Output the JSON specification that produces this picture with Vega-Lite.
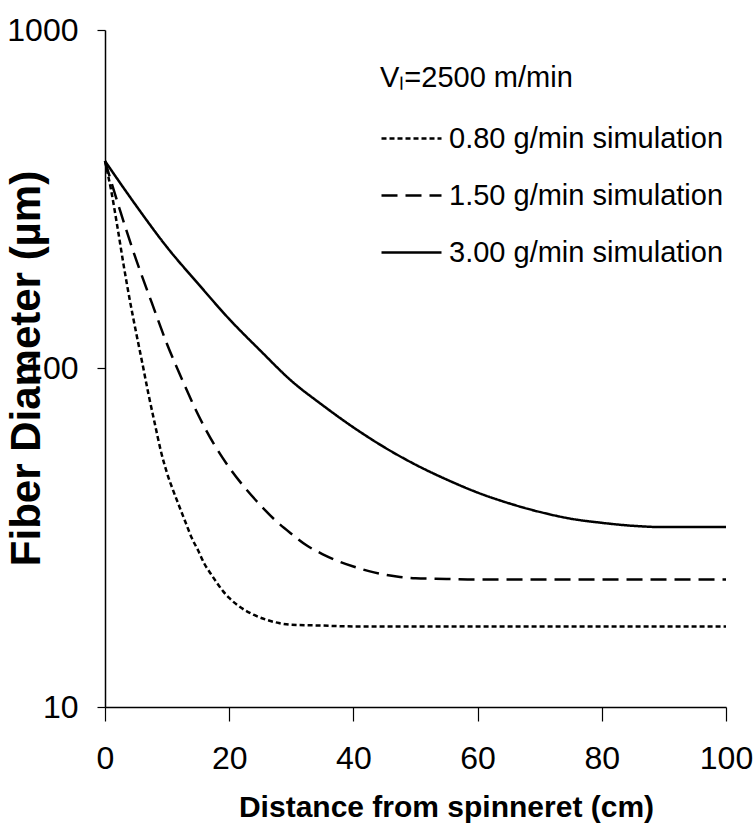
{
  "$schema": "https://vega.github.io/schema/vega-lite/v6.json",
  "width": 621,
  "height": 677,
  "autosize": {"type": "none"},
  "padding": {"left": 105, "top": 30, "right": 30, "bottom": 128},
  "background": "white",
  "config": {
    "view": {"stroke": null},
    "font": "Liberation Sans"
  },
  "data": {
    "values": [
      {"series": "0.80 g/min simulation", "distance": 0, "diameter": 410},
      {"series": "0.80 g/min simulation", "distance": 1, "diameter": 335},
      {"series": "0.80 g/min simulation", "distance": 2, "diameter": 262},
      {"series": "0.80 g/min simulation", "distance": 3, "diameter": 202},
      {"series": "0.80 g/min simulation", "distance": 4, "diameter": 159},
      {"series": "0.80 g/min simulation", "distance": 5, "diameter": 128},
      {"series": "0.80 g/min simulation", "distance": 6, "diameter": 104},
      {"series": "0.80 g/min simulation", "distance": 7, "diameter": 84},
      {"series": "0.80 g/min simulation", "distance": 8, "diameter": 69},
      {"series": "0.80 g/min simulation", "distance": 9, "diameter": 57},
      {"series": "0.80 g/min simulation", "distance": 10, "diameter": 49},
      {"series": "0.80 g/min simulation", "distance": 11, "diameter": 43.5},
      {"series": "0.80 g/min simulation", "distance": 12, "diameter": 39},
      {"series": "0.80 g/min simulation", "distance": 13, "diameter": 35},
      {"series": "0.80 g/min simulation", "distance": 14, "diameter": 31.5},
      {"series": "0.80 g/min simulation", "distance": 15, "diameter": 29},
      {"series": "0.80 g/min simulation", "distance": 16, "diameter": 26.5},
      {"series": "0.80 g/min simulation", "distance": 17, "diameter": 24.8},
      {"series": "0.80 g/min simulation", "distance": 18, "diameter": 23.3},
      {"series": "0.80 g/min simulation", "distance": 19, "diameter": 22},
      {"series": "0.80 g/min simulation", "distance": 20, "diameter": 21},
      {"series": "0.80 g/min simulation", "distance": 22, "diameter": 19.6},
      {"series": "0.80 g/min simulation", "distance": 24, "diameter": 18.7},
      {"series": "0.80 g/min simulation", "distance": 26, "diameter": 18.1},
      {"series": "0.80 g/min simulation", "distance": 28, "diameter": 17.7},
      {"series": "0.80 g/min simulation", "distance": 30, "diameter": 17.5},
      {"series": "0.80 g/min simulation", "distance": 35, "diameter": 17.4},
      {"series": "0.80 g/min simulation", "distance": 40, "diameter": 17.3},
      {"series": "0.80 g/min simulation", "distance": 50, "diameter": 17.3},
      {"series": "0.80 g/min simulation", "distance": 60, "diameter": 17.3},
      {"series": "0.80 g/min simulation", "distance": 70, "diameter": 17.3},
      {"series": "0.80 g/min simulation", "distance": 80, "diameter": 17.3},
      {"series": "0.80 g/min simulation", "distance": 90, "diameter": 17.3},
      {"series": "0.80 g/min simulation", "distance": 100, "diameter": 17.3},
      {"series": "1.50 g/min simulation", "distance": 0, "diameter": 410},
      {"series": "1.50 g/min simulation", "distance": 2.5, "diameter": 290},
      {"series": "1.50 g/min simulation", "distance": 5, "diameter": 210},
      {"series": "1.50 g/min simulation", "distance": 7.5, "diameter": 157},
      {"series": "1.50 g/min simulation", "distance": 10, "diameter": 118},
      {"series": "1.50 g/min simulation", "distance": 12.5, "diameter": 92},
      {"series": "1.50 g/min simulation", "distance": 15, "diameter": 73},
      {"series": "1.50 g/min simulation", "distance": 17.5, "diameter": 60},
      {"series": "1.50 g/min simulation", "distance": 20, "diameter": 51},
      {"series": "1.50 g/min simulation", "distance": 22.5, "diameter": 44.5},
      {"series": "1.50 g/min simulation", "distance": 25, "diameter": 39.5},
      {"series": "1.50 g/min simulation", "distance": 27.5, "diameter": 35.5},
      {"series": "1.50 g/min simulation", "distance": 30, "diameter": 32.5},
      {"series": "1.50 g/min simulation", "distance": 32.5, "diameter": 30},
      {"series": "1.50 g/min simulation", "distance": 35, "diameter": 28.3},
      {"series": "1.50 g/min simulation", "distance": 37.5, "diameter": 27},
      {"series": "1.50 g/min simulation", "distance": 40, "diameter": 26},
      {"series": "1.50 g/min simulation", "distance": 42.5, "diameter": 25.2},
      {"series": "1.50 g/min simulation", "distance": 45, "diameter": 24.6},
      {"series": "1.50 g/min simulation", "distance": 47.5, "diameter": 24.2},
      {"series": "1.50 g/min simulation", "distance": 50, "diameter": 24},
      {"series": "1.50 g/min simulation", "distance": 55, "diameter": 23.9},
      {"series": "1.50 g/min simulation", "distance": 60, "diameter": 23.8},
      {"series": "1.50 g/min simulation", "distance": 70, "diameter": 23.8},
      {"series": "1.50 g/min simulation", "distance": 80, "diameter": 23.8},
      {"series": "1.50 g/min simulation", "distance": 90, "diameter": 23.8},
      {"series": "1.50 g/min simulation", "distance": 100, "diameter": 23.8},
      {"series": "3.00 g/min simulation", "distance": 0, "diameter": 410},
      {"series": "3.00 g/min simulation", "distance": 5, "diameter": 303},
      {"series": "3.00 g/min simulation", "distance": 10, "diameter": 228},
      {"series": "3.00 g/min simulation", "distance": 15, "diameter": 178},
      {"series": "3.00 g/min simulation", "distance": 20, "diameter": 140},
      {"series": "3.00 g/min simulation", "distance": 25, "diameter": 113},
      {"series": "3.00 g/min simulation", "distance": 30, "diameter": 92},
      {"series": "3.00 g/min simulation", "distance": 35, "diameter": 78},
      {"series": "3.00 g/min simulation", "distance": 40, "diameter": 67},
      {"series": "3.00 g/min simulation", "distance": 45, "diameter": 58.5},
      {"series": "3.00 g/min simulation", "distance": 50, "diameter": 52},
      {"series": "3.00 g/min simulation", "distance": 55, "diameter": 47},
      {"series": "3.00 g/min simulation", "distance": 60, "diameter": 43},
      {"series": "3.00 g/min simulation", "distance": 65, "diameter": 40},
      {"series": "3.00 g/min simulation", "distance": 70, "diameter": 37.7},
      {"series": "3.00 g/min simulation", "distance": 75, "diameter": 36},
      {"series": "3.00 g/min simulation", "distance": 80, "diameter": 35},
      {"series": "3.00 g/min simulation", "distance": 85, "diameter": 34.3},
      {"series": "3.00 g/min simulation", "distance": 90, "diameter": 34},
      {"series": "3.00 g/min simulation", "distance": 95, "diameter": 34},
      {"series": "3.00 g/min simulation", "distance": 100, "diameter": 34}
    ]
  },
  "mark": {"type": "line", "color": "black", "strokeWidth": 2.5, "interpolate": "monotone"},
  "encoding": {
    "x": {
      "field": "distance",
      "type": "quantitative",
      "scale": {"domain": [0, 100], "nice": false},
      "axis": {
        "title": "Distance from spinneret (cm)",
        "values": [0, 20, 40, 60, 80, 100],
        "grid": false,
        "domainColor": "black",
        "domainWidth": 1.5,
        "tickColor": "black",
        "tickWidth": 1.2,
        "tickSize": 14,
        "labelFontSize": 32,
        "labelColor": "black",
        "labelPadding": 22,
        "labelFlush": false,
        "titleFontSize": 30,
        "titleFontWeight": "bold",
        "titleColor": "black",
        "titlePadding": 18,
        "titleX": 341,
        "titleAnchor": "middle"
      }
    },
    "y": {
      "field": "diameter",
      "type": "quantitative",
      "scale": {"type": "log", "domain": [10, 1000], "nice": false},
      "axis": {
        "title": "Fiber Diameter (µm)",
        "values": [10, 100, 1000],
        "format": "d",
        "grid": false,
        "domainColor": "black",
        "domainWidth": 1.5,
        "tickColor": "black",
        "tickWidth": 1.2,
        "tickSize": 8,
        "labelFontSize": 32,
        "labelColor": "black",
        "labelPadding": 19,
        "labelFlush": false,
        "titleFontSize": 42,
        "titleFontWeight": "bold",
        "titleColor": "black",
        "titleX": -57,
        "titleY": 338,
        "titleAnchor": "middle"
      }
    },
    "strokeDash": {
      "field": "series",
      "type": "nominal",
      "scale": {
        "domain": ["0.80 g/min simulation", "1.50 g/min simulation", "3.00 g/min simulation"],
        "range": [[5, 3], [16, 8], [1, 0]]
      },
      "legend": {
        "title": "Vₗ=2500 m/min",
        "orient": "none",
        "legendX": 275,
        "legendY": 34,
        "padding": 0,
        "titleFontSize": 29,
        "titleFontWeight": "normal",
        "titleColor": "black",
        "titleLimit": 400,
        "titlePadding": 14,
        "labelFontSize": 29,
        "labelColor": "black",
        "labelOffset": 6,
        "labelLimit": 400,
        "symbolType": "stroke",
        "symbolSize": 3600,
        "symbolStrokeWidth": 2.5,
        "symbolStrokeColor": "black",
        "rowPadding": 10
      }
    }
  }
}
